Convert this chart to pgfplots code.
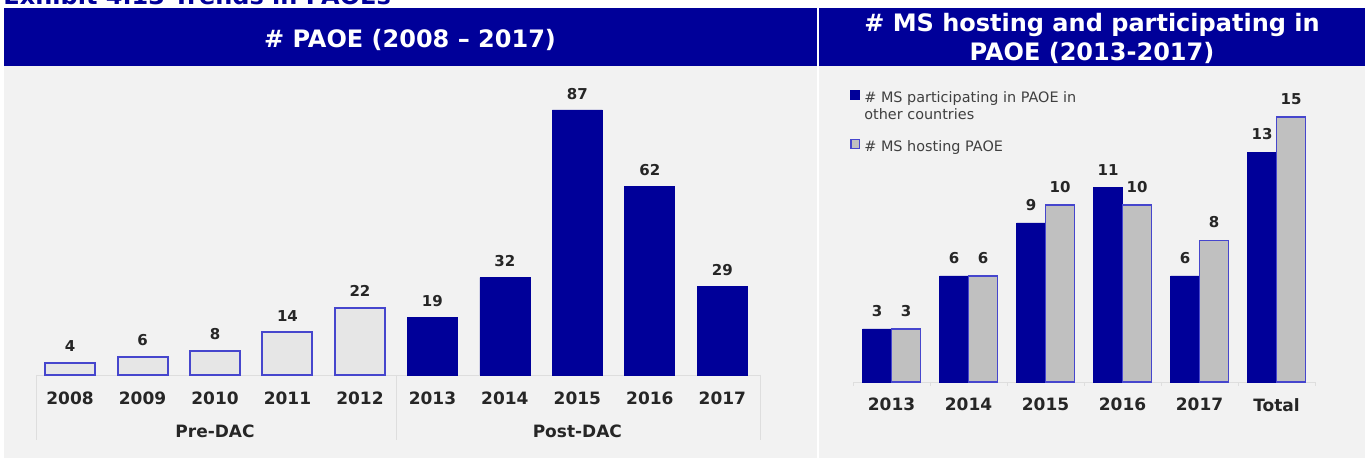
\documentclass[border=0pt]{standalone}
\usepackage{pgfplots}
\pgfplotsset{compat=1.18}
\usepackage{fontspec}
\setmainfont{DejaVu Sans}
\definecolor{navy}{RGB}{0,0,153}
\definecolor{bggray}{RGB}{242,242,242}
\definecolor{pregray}{RGB}{230,230,230}
\definecolor{edgeblue}{RGB}{70,70,205}
\definecolor{barsilver}{RGB}{192,192,192}
\definecolor{txt}{RGB}{38,38,38}
\definecolor{linegray}{RGB}{222,222,222}
\definecolor{legtxt}{RGB}{64,64,64}

\begin{document}
\begin{tikzpicture}
\path[use as bounding box, fill=white] (0,0) rectangle (685.5pt,229pt);
\begin{scope}
\clip (0,225pt) rectangle (685.5pt,229pt);
\node[anchor=base west, inner sep=0, text=navy, font=\bfseries\fontsize{12}{14}\selectfont] at (1.5pt,226.5pt) {Exhibit 4.13 Trends in PAOEs};
\end{scope}
% panels
\fill[bggray] (2pt,0) rectangle (408.5pt,196pt);
\fill[navy] (2pt,196pt) rectangle (408.5pt,225pt);
\fill[bggray] (409.5pt,0) rectangle (682.5pt,196pt);
\fill[navy] (409.5pt,196pt) rectangle (682.5pt,225pt);
\node[text=white, font=\bfseries\fontsize{12}{14}\selectfont] at (205pt,208.8pt) {\# PAOE (2008 – 2017)};
\node[text=white, font=\bfseries\fontsize{12}{14.5}\selectfont, align=center] at (546pt,209.8pt) {\# MS hosting and participating in\\PAOE (2013-2017)};

% left chart
\begin{axis}[
  at={(18pt,41.5pt)}, anchor=south west, scale only axis,
  width=362pt, height=152.3pt,
  xmin=-0.47, xmax=9.52, ymin=0, ymax=100,
  axis x line*=bottom, axis y line=none,
  axis line style={draw=linegray, -},
  xtick={0,...,9}, xticklabels={2008,2009,2010,2011,2012,2013,2014,2015,2016,2017},
  major tick length=0pt,
  /pgf/number format/assume math mode=true,
  xticklabel style={font=\bfseries\fontsize{8.5}{10}\selectfont, text=txt, yshift=-5pt},
  ybar, bar width=25pt,
  nodes near coords,
  nodes near coords style={font=\bfseries\fontsize{7.5}{9}\selectfont, text=txt, yshift=1.8pt},
  clip=false,
]
\addplot[fill=pregray, draw=edgeblue, line width=1pt, bar shift=0pt] coordinates {(0,4)(1,6)(2,8)(3,14)(4,22)};
\addplot[fill=navy, draw=navy, bar shift=0pt] coordinates {(5,19)(6,32)(7,87)(8,62)(9,29)};
\draw[linegray] (axis cs:-0.47,0) -- ++(0pt,-32.5pt);
\draw[linegray] (axis cs:4.5,0) -- ++(0pt,-32.5pt);
\draw[linegray] (axis cs:9.52,0) -- ++(0pt,-32.5pt);
\node[font=\bfseries\fontsize{8.5}{10}\selectfont, text=txt, yshift=-28pt] at (axis cs:2,0) {Pre-DAC};
\node[font=\bfseries\fontsize{8.5}{10}\selectfont, text=txt, yshift=-28pt] at (axis cs:7,0) {Post-DAC};
\end{axis}

% right chart
\begin{axis}[
  at={(426.5pt,38pt)}, anchor=south west, scale only axis,
  width=231pt, height=150.2pt,
  xmin=-0.5, xmax=5.5, ymin=0, ymax=17,
  axis x line*=bottom, axis y line=none,
  axis line style={draw=linegray, -},
  xtick={0,...,5}, xticklabels={2013,2014,2015,2016,2017,Total},
  minor xtick={-0.5,0.5,...,5.5},
  major tick length=0pt, minor tick length=2pt, xtick align=outside,
  tick style={draw=linegray},
  /pgf/number format/assume math mode=true,
  xticklabel style={font=\bfseries\fontsize{8.5}{10}\selectfont, text=txt, yshift=-4.6pt},
  ybar=0pt, bar width=14.5pt,
  nodes near coords,
  nodes near coords style={font=\bfseries\fontsize{7.5}{9}\selectfont, text=txt, yshift=2.5pt},
  clip=false,
  legend style={at={(rel axis cs:0,1)}, anchor=north west, xshift=-1.5pt, yshift=-2.5pt,
    draw=none, fill=none, font=\fontsize{7.2}{8.5}\selectfont, text=legtxt,
    row sep=13.5pt, inner sep=0pt},
  legend cell align=left,
  legend image code/.code={\draw[#1, line width=0.6pt] (0pt,-0.3pt) rectangle (4.4pt,4.1pt);},
]
\addplot[fill=navy, draw=navy] coordinates {(0,3)(1,6)(2,9)(3,11)(4,6)(5,13)};
\addplot[fill=barsilver, draw=edgeblue, line width=0.8pt] coordinates {(0,3)(1,6)(2,10)(3,10)(4,8)(5,15)};
\legend{{\begin{tabular}[t]{@{}l@{}}\# MS participating in PAOE in\\other countries\end{tabular}}, \# MS hosting PAOE}
\end{axis}
\end{tikzpicture}
\end{document}
